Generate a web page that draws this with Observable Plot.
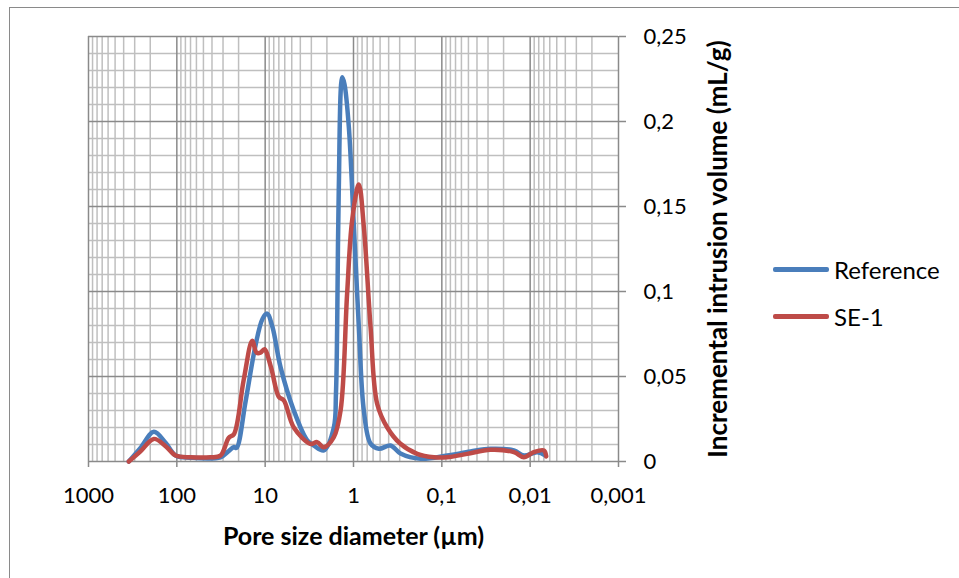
<!DOCTYPE html>
<html>
<head>
<meta charset="utf-8">
<script src="https://cdn.jsdelivr.net/npm/d3@7"></script>
<script src="https://cdn.jsdelivr.net/npm/@observablehq/plot@0.6"></script>
<style>
  html, body { margin: 0; padding: 0; background: #fff; overflow: hidden; }
  #wrap { position: relative; width: 959px; height: 578px; font-family: Lato, "Open Sans", sans-serif; }
  #border { position: absolute; left: 9px; top: 7px; width: 1000px; height: 1000px; border: 1px solid #8a8a8a; box-sizing: border-box; pointer-events: none; }
  #chart { position: absolute; left: 0; top: 0; }
  .leg { position: absolute; left: 773px; display: flex; align-items: center; font-size: 24px; color: #000; }
  .leg .sw { width: 56px; height: 4.5px; border-radius: 2px; margin-right: 5px; }
</style>
</head>
<body>
<div id="wrap">
  <div id="chart"></div>
  <div id="border"></div>
  <div class="leg" style="top:255px"><div class="sw" style="background:#4A7EBB"></div><span>Reference</span></div>
  <div class="leg" style="top:302px"><div class="sw" style="background:#BE4B48"></div><span>SE-1</span></div>
</div>
<script>
// Series: pore diameter (µm) and incremental intrusion volume (mL/g)
const refDiameter = [350, 258, 182, 134, 103, 70, 32, 26, 22.6, 21.1, 16.7, 12.9, 10.7, 9.5, 8.26, 6.7, 4.74, 3.34, 2.81, 2.17, 1.67, 1.58, 1.53, 1.47, 1.34, 1.265, 1.13, 0.99, 0.87, 0.764, 0.641, 0.516, 0.381, 0.294, 0.174, 0.087, 0.0473, 0.0281, 0.0153, 0.0118, 0.0083, 0.0067];
const refVolume   = [0, 0.008, 0.0175, 0.011, 0.0035, 0.0022, 0.0025, 0.006, 0.0085, 0.008, 0.035, 0.068, 0.084, 0.087, 0.079, 0.0555, 0.030, 0.0124, 0.0094, 0.0065, 0.020, 0.040, 0.080, 0.158, 0.226, 0.222, 0.197, 0.138, 0.079, 0.030, 0.0105, 0.0075, 0.0094, 0.0047, 0.0016, 0.0035, 0.0059, 0.0075, 0.0065, 0.0035, 0.0055, 0.0035];

const se1Diameter = [350, 258, 182, 134, 103, 70, 41.6, 32, 25.8, 22.6, 17.5, 14.0, 12.5, 11.3, 10.2, 8.6, 7.0, 6.15, 4.74, 3.07, 2.58, 2.17, 1.67, 1.40, 1.18, 1.035, 0.87, 0.764, 0.641, 0.54, 0.415, 0.294, 0.19, 0.123, 0.087, 0.0516, 0.0281, 0.0153, 0.0118, 0.0091, 0.0070, 0.00658];
const se1Volume   = [0, 0.006, 0.0133, 0.009, 0.0035, 0.0025, 0.0025, 0.0035, 0.014, 0.016, 0.048, 0.071, 0.064, 0.064, 0.066, 0.0555, 0.038, 0.036, 0.020, 0.0104, 0.0114, 0.0084, 0.0143, 0.030, 0.099, 0.142, 0.163, 0.138, 0.079, 0.034, 0.020, 0.0104, 0.0045, 0.0025, 0.0025, 0.0045, 0.0069, 0.0055, 0.0025, 0.0055, 0.0065, 0.003];

const xTicks = [1000, 100, 10, 1, 0.1, 0.01, 0.001];
const xTickLabels = ["1000", "100", "10", "1", "0,1", "0,01", "0,001"];
const yTicks = [0, 0.05, 0.1, 0.15, 0.2, 0.25];
const yTickLabels = ["0", "0,05", "0,1", "0,15", "0,2", "0,25"];
const xMinor = [];
for (const dec of [100, 10, 1, 0.1, 0.01, 0.001]) for (let k = 2; k <= 9; k++) xMinor.push(+(dec * k).toPrecision(3));
const yMinor = d3.range(1, 25).map(i => +(i * 0.01).toFixed(2)).filter(v => Math.round(v * 100) % 5 !== 0);

const xTitle = "Pore size diameter (µm)";
const yTitle = "Incremental intrusion volume (mL/g)";

const refData = refDiameter.map((d, i) => ({d, v: refVolume[i]}));
const se1Data = se1Diameter.map((d, i) => ({d, v: se1Volume[i]}));

const font = "Lato, 'Open Sans', sans-serif";

const chart = Plot.plot({
  width: 959,
  height: 578,
  marginLeft: 88,
  marginRight: 341,
  marginTop: 36,
  marginBottom: 117,
  style: {fontFamily: font, fontSize: "21px", color: "#000", background: "transparent", overflow: "visible"},
  x: {type: "log", domain: [1000, 0.001]},
  y: {domain: [0, 0.25]},
  marks: [
    Plot.ruleX(xMinor, {stroke: "#bfbfbf", strokeWidth: 1.5}),
    Plot.ruleY(yMinor, {stroke: "#bfbfbf", strokeWidth: 1.5}),
    Plot.ruleX(xTicks, {stroke: "#8a8a8a", strokeWidth: 1.5}),
    Plot.ruleY(yTicks, {stroke: "#8a8a8a", strokeWidth: 1.5}),
    Plot.axisX({ticks: xTicks, tickFormat: d => xTickLabels[xTicks.indexOf(d)], tickSize: 6, tickPadding: 20, stroke: "#8a8a8a", strokeWidth: 1.5, fill: "#000", fontSize: 22, label: null}),
    Plot.axisY({anchor: "right", ticks: yTicks, tickFormat: d => yTickLabels[yTicks.indexOf(d)], tickSize: 7, tickPadding: 18, stroke: "#8a8a8a", strokeWidth: 1.5, fill: "#000", fontSize: 22, label: null}),
    Plot.line(refData, {x: "d", y: "v", stroke: "#4A7EBB", strokeWidth: 4.5, curve: "catmull-rom", strokeLinejoin: "round", strokeLinecap: "round"}),
    Plot.line(se1Data, {x: "d", y: "v", stroke: "#BE4B48", strokeWidth: 4.5, curve: "catmull-rom", strokeLinejoin: "round", strokeLinecap: "round"}),
    Plot.text([xTitle], {frameAnchor: "bottom", dy: 83, text: d => d, textAnchor: "middle", fontWeight: "bold", fontSize: 25, fill: "#000"}),
    Plot.text([yTitle], {frameAnchor: "right", dx: 100, rotate: -90, text: d => d, textAnchor: "middle", fontWeight: "bold", fontSize: 26, fill: "#000"})
  ]
});
document.getElementById("chart").appendChild(chart);
</script>
</body>
</html>
